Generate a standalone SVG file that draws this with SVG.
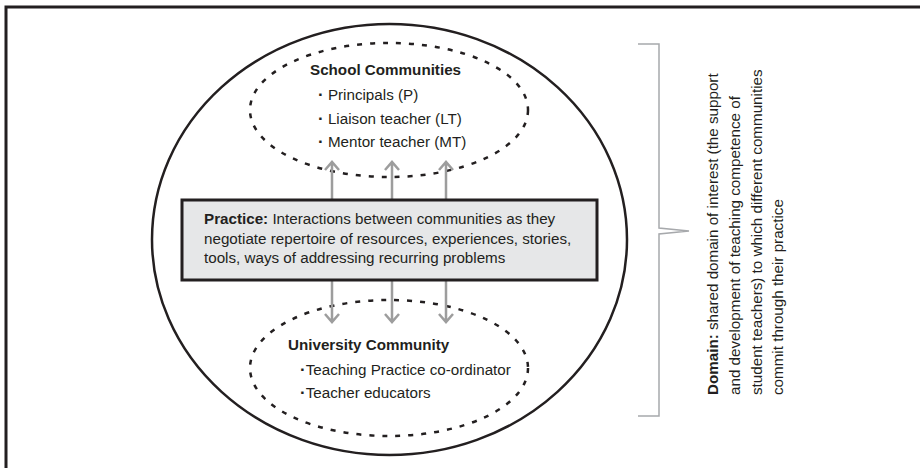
<svg xmlns="http://www.w3.org/2000/svg" width="920" height="468" viewBox="0 0 920 468">
<defs>
<style>
text{font-family:"Liberation Sans",Arial,sans-serif;font-size:15.2px;fill:#231f20}
.b{font-weight:bold}
.dot{font-weight:bold;font-size:17px}
.dash{fill:none;stroke:#231f20;stroke-width:2.5;stroke-dasharray:5 8}
.arr{fill:none;stroke:#9d9d9d;stroke-width:2.5}
</style>
</defs>
<rect width="920" height="468" fill="#fff"/>
<path d="M6 468 V7 H920" fill="none" stroke="#231f20" stroke-width="3"/>
<g id="domain-ellipse">
<ellipse cx="389.5" cy="239.5" rx="237.5" ry="215.5" fill="none" stroke="#231f20" stroke-width="2.5"/>
</g>
<g id="school">
<ellipse class="dash" cx="389" cy="110" rx="139" ry="67"/>
<text class="b" x="310" y="75">School Communities</text>
<text x="318" y="100"><tspan class="dot">·</tspan> Principals (P)</text>
<text x="318" y="123.5"><tspan class="dot">·</tspan> Liaison teacher (LT)</text>
<text x="318" y="147"><tspan class="dot">·</tspan> Mentor teacher (MT)</text>
</g>
<g id="university">
<ellipse class="dash" cx="389" cy="368" rx="139" ry="68"/>
<text class="b" x="288" y="350">University Community</text>
<text x="300" y="375"><tspan class="dot">·</tspan>Teaching Practice co-ordinator</text>
<text x="300" y="398"><tspan class="dot">·</tspan>Teacher educators</text>
</g>
<g id="connectors">
<path class="arr" d="M332 200V163M325 170L332 162L339 170M392 200V163M385 170L392 162L399 170M446 200V163M439 170L446 162L453 170"/>
<path class="arr" d="M332 280V321M325 314L332 322L339 314M392 280V321M385 314L392 322L399 314M446 280V321M439 314L446 322L453 314"/>
</g>
<g id="practice">
<rect x="182" y="200" width="415" height="80" fill="#e6e7e8" stroke="#231f20" stroke-width="3"/>
<text x="204" y="224"><tspan class="b">Practice:</tspan> Interactions between communities as they</text>
<text x="204" y="243.5">negotiate repertoire of resources, experiences, stories,</text>
<text x="204" y="263">tools, ways of addressing recurring problems</text>
</g>
<g id="bracket">
<path d="M638 44H659V228L689 231L659 234V416H638" fill="none" stroke="#a7a9ac" stroke-width="1.5"/>
</g>
<g id="domain">
<g transform="translate(0,395) rotate(-90)">
<text x="0" y="718"><tspan class="b">Domain:</tspan> shared domain of interest (the support</text>
<text x="0" y="740">and development of teaching competence of</text>
<text x="0" y="761.5">student teachers) to which different communities</text>
<text x="0" y="783">commit through their practice</text>
</g>
</g>
</svg>
